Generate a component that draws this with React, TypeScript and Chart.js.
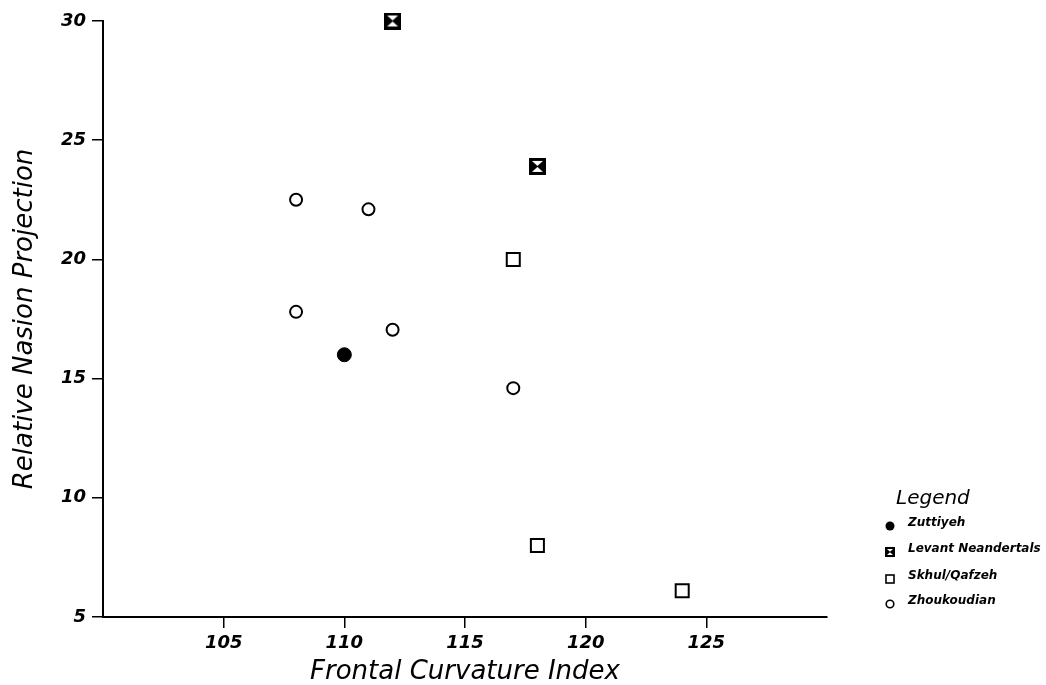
import React, { useEffect, useRef } from "react";
import { Chart, registerables } from "chart.js";

Chart.register(...registerables);

// ---- Data ----
const zuttiyehX = [110];
const zuttiyehY = [16];
const levantX = [112, 118];
const levantY = [30, 23.9];
const skhulX = [117, 118, 124];
const skhulY = [20.0, 8.0, 6.1];
const zhouX = [108, 111, 108, 112, 117];
const zhouY = [22.5, 22.1, 17.8, 17.05, 14.6];

const xTicks = [105, 110, 115, 120, 125];
const yTicks = [5, 10, 15, 20, 25, 30];

const seriesNames = ["Zuttiyeh", "Levant Neandertals", "Skhul/Qafzeh", "Zhoukoudian"];

const xTitle = "Frontal Curvature Index";
const yTitle = "Relative Nasion Projection";

const FONT = "'DejaVu Sans', sans-serif";

function toPoints(xs: number[], ys: number[]) {
  return xs.map((x, i) => ({ x, y: ys[i] }));
}

function makeLevantMarker(size: number) {
  const c = document.createElement("canvas");
  c.width = size;
  c.height = size;
  const ctx = c.getContext("2d")!;
  ctx.fillStyle = "#000";
  ctx.fillRect(0, 0, size, size);
  ctx.fillStyle = "#fff";
  const m = 3;
  const h = size / 2;
  ctx.beginPath();
  ctx.moveTo(m, m);
  ctx.lineTo(size - m, m);
  ctx.lineTo(h, h - 0.5);
  ctx.closePath();
  ctx.fill();
  ctx.beginPath();
  ctx.moveTo(m, size - m);
  ctx.lineTo(size - m, size - m);
  ctx.lineTo(h, h + 0.5);
  ctx.closePath();
  ctx.fill();
  return c;
}

export default function App() {
  const ref = useRef<HTMLCanvasElement | null>(null);

  useEffect(() => {
    if (!ref.current) return;
    const levantImg = makeLevantMarker(17);
    const chart = new Chart(ref.current, {
      type: "scatter",
      data: {
        datasets: [
          {
            label: seriesNames[0],
            data: toPoints(zuttiyehX, zuttiyehY),
            pointStyle: "circle",
            pointRadius: 7,
            backgroundColor: "#000",
            borderColor: "#000",
            borderWidth: 1,
            clip: false,
          },
          {
            label: seriesNames[1],
            data: toPoints(levantX, levantY),
            pointStyle: levantImg as any,
            pointRadius: 9,
            backgroundColor: "#000",
            borderColor: "#000",
            clip: false,
          },
          {
            label: seriesNames[2],
            data: toPoints(skhulX, skhulY),
            pointStyle: "rect",
            pointRadius: 9.2,
            backgroundColor: "#fff",
            borderColor: "#000",
            borderWidth: 2,
            clip: false,
          },
          {
            label: seriesNames[3],
            data: toPoints(zhouX, zhouY),
            pointStyle: "circle",
            pointRadius: 6,
            backgroundColor: "#fff",
            borderColor: "#000",
            borderWidth: 2,
            clip: false,
          },
        ] as any,
      },
      options: {
        animation: false,
        responsive: false,
        events: [],
        layout: { padding: { top: 21, right: 219, left: 0, bottom: 0 } },
        plugins: {
          legend: { display: false },
          tooltip: { enabled: false },
        },
        scales: {
          x: {
            type: "linear",
            min: 100,
            max: 130,
            afterBuildTicks: (scale: any) => {
              scale.ticks = xTicks.map((v) => ({ value: v }));
            },
            afterFit: (scale: any) => {
              scale.height = 68;
            },
            grid: {
              display: true,
              drawOnChartArea: false,
              drawTicks: true,
              tickLength: 11,
              color: "#000",
              lineWidth: 1.5,
            },
            border: { display: true, color: "#000", width: 2 },
            ticks: {
              color: "#000",
              padding: 5,
              maxRotation: 0,
              font: { family: FONT, size: 18, style: "italic", weight: "bold" },
              callback: (v: any) => String(v),
            },
            title: {
              display: true,
              text: xTitle,
              color: "#000",
              padding: { top: 0, bottom: 0 },
              font: { family: FONT, size: 26, style: "italic", lineHeight: 1 },
            },
          },
          y: {
            type: "linear",
            min: 5,
            max: 30,
            afterBuildTicks: (scale: any) => {
              scale.ticks = yTicks.map((v) => ({ value: v }));
            },
            afterFit: (scale: any) => {
              scale.width = 103;
            },
            grid: {
              display: true,
              drawOnChartArea: false,
              drawTicks: true,
              tickLength: 11,
              color: "#000",
              lineWidth: 1.5,
            },
            border: { display: true, color: "#000", width: 2 },
            ticks: {
              color: "#000",
              padding: 6,
              font: { family: FONT, size: 18, style: "italic", weight: "bold" },
              callback: (v: any) => String(v),
            },
            title: {
              display: true,
              text: yTitle,
              color: "#000",
              padding: { top: 12, bottom: 0 },
              font: { family: FONT, size: 26, style: "italic", lineHeight: 1 },
            },
          },
        },
      },
    });
    return () => chart.destroy();
  }, []);

  const legendRows = [
    { name: seriesNames[0], y: 522, icon: "filledCircle" },
    { name: seriesNames[1], y: 548, icon: "levant" },
    { name: seriesNames[2], y: 575, icon: "square" },
    { name: seriesNames[3], y: 600, icon: "circle" },
  ];

  const renderIcon = (kind: string) => {
    if (kind === "filledCircle")
      return (
        <svg width="10" height="10" viewBox="0 0 10 10">
          <circle cx="5" cy="5" r="4.5" fill="#000" />
        </svg>
      );
    if (kind === "levant")
      return (
        <svg width="10" height="10" viewBox="0 0 10 10">
          <rect x="0" y="0" width="10" height="10" fill="#000" />
          <polygon points="2,2 8,2 5,4.7" fill="#fff" />
          <polygon points="2,8 8,8 5,5.3" fill="#fff" />
        </svg>
      );
    if (kind === "square")
      return (
        <svg width="10" height="10" viewBox="0 0 10 10">
          <rect x="1" y="1" width="8" height="8" fill="#fff" stroke="#000" strokeWidth="1.6" />
        </svg>
      );
    return (
      <svg width="10" height="10" viewBox="0 0 10 10">
        <circle cx="5" cy="5" r="3.8" fill="#fff" stroke="#000" strokeWidth="1.6" />
      </svg>
    );
  };

  return (
    <div
      style={{
        position: "absolute",
        left: 0,
        top: 0,
        width: 1046,
        height: 685,
        background: "#fff",
        overflow: "hidden",
      }}
    >
      <canvas ref={ref} width={1046} height={685} style={{ display: "block" }} />
      <div
        style={{
          position: "absolute",
          left: 896,
          top: 497,
          transform: "translateY(-50%)",
          fontFamily: FONT,
          fontStyle: "italic",
          fontSize: 20,
          lineHeight: "20px",
          color: "#000",
        }}
      >
        Legend
      </div>
      {legendRows.map((r) => (
        <React.Fragment key={r.name}>
          <div style={{ position: "absolute", left: 885, top: r.y - 5, width: 10, height: 10 }}>
            {renderIcon(r.icon)}
          </div>
          <div
            style={{
              position: "absolute",
              left: 908,
              top: r.y,
              transform: "translateY(-50%)",
              fontFamily: FONT,
              fontStyle: "italic",
              fontWeight: "bold",
              fontSize: 12,
              lineHeight: "12px",
              whiteSpace: "nowrap",
              color: "#000",
            }}
          >
            {r.name}
          </div>
        </React.Fragment>
      ))}
    </div>
  );
}
